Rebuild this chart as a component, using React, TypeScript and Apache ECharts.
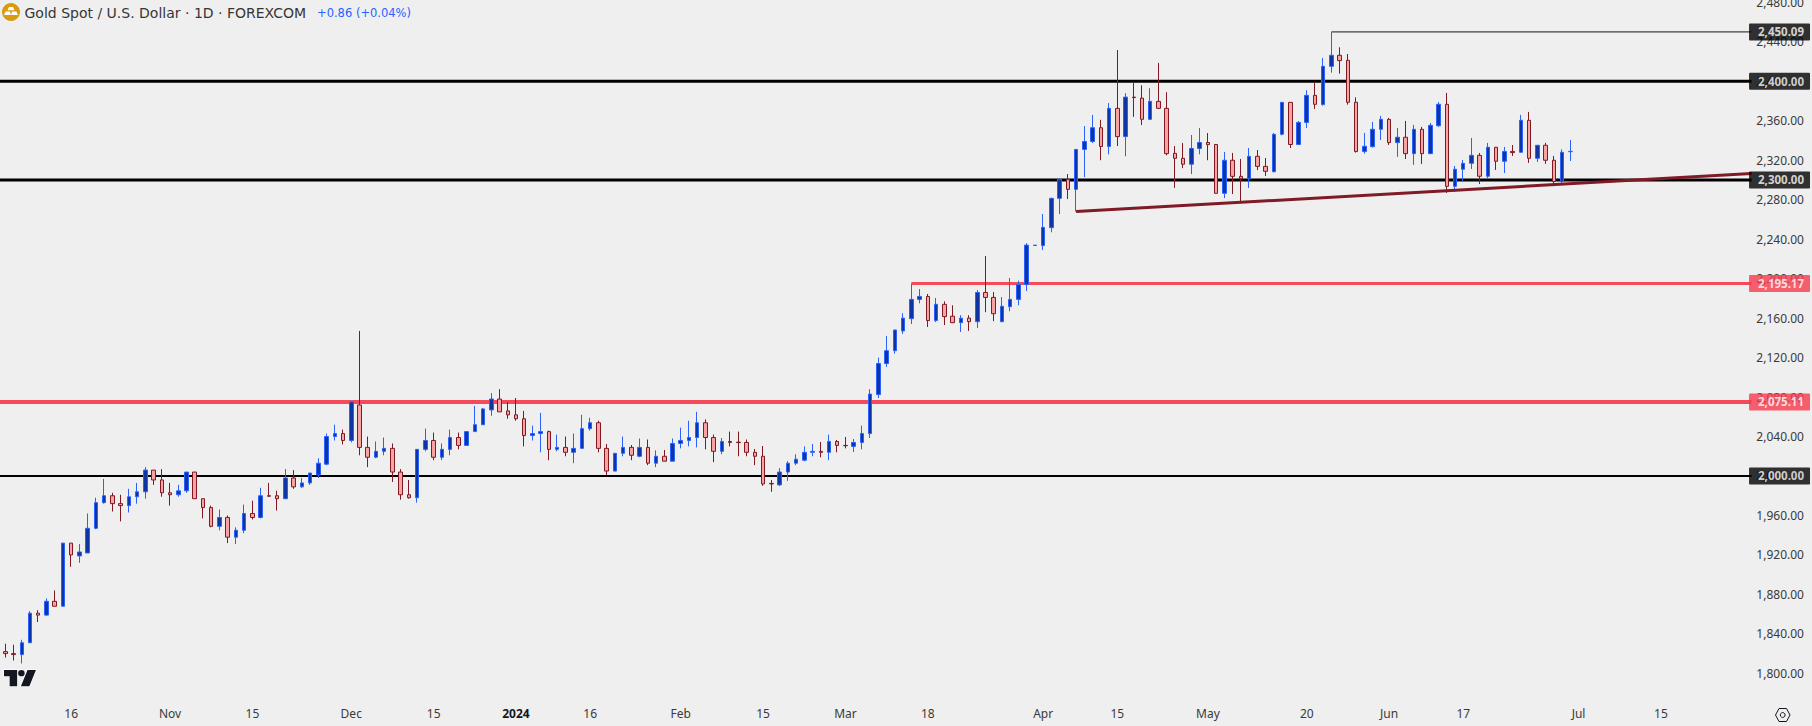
import React, { useEffect, useRef } from "react";
import * as echarts from "echarts";

const FONT = '"Noto Sans", sans-serif';
const TITLE_FONT = '"DejaVu Sans", sans-serif';
const BG = "#efefef";

const opens = [1822,1820,1819,1831,1861,1859,1873,1868,1932,1919,1922,1947,1973,1980,1972,1970,1979,1984,2006,1996,1983,1981,1985,2004,1977,1968,1949,1958,1938,1945,1962,1958,1980,1980,1977,1998,1989,1993,2001,2012,2040,2043,2036,2072,2029,2019,2025,2028,2004,1981,1978,2027,2036,2019,
2027,2039,2031,2045,2052,2067,2078,2066,2062,2058,2041,2043,2045,2027,2029,2024,2028,2048,2054,
2028,2005,2023,2029,2020,2029,2013,2020,2015,2033,2036,2039,2054,2039,2025,2035,2034.3,2034,2024,2020,1992.5,1991,2004,2013,2016,2024,2025,2024,2035,2031,2030,2034,2043,
2082.5,2114,2127,2147,2159.5,2179,2182,2157.5,2174,2162,2155.4,2160,2156.4,2186,2181,2156.4,2171.6,2179,2194,2233.6,2233.5,2251.7,2281.4,2300.7,2290.5,2331,2339,2353,2334,2372.6,2344,2384,2383,2361.5,2379.7,2372.6,2327,2322,2316,2332,2338,2336,2286.5,2320,2303.7,2301.3,2324,2313.8,2308.4,2346.3,2378.7,2336,2358.4,2385.8,
2376.4,2415.2,2426.4,2421.3,2378.8,2328.8,2333.8,2351.4,2361.5,2337.9,2343.3,2326.7,2351.4,2326.7,2355,2376.7,2293.6,2310.9,2316.9,2325,2303.8,2333.2,2319,2329,2328.1,2360.5,2322,2335.2,2320,2298.4,2328.7];

const closes = [1820,1819,1831,1861,1859,1873,1868,1932,1920,1923,1947,1973,1980,1972,1970,1979,1984,2006,1996,1983,1981,1985,2004,1977,1968,1949,1958,1938,1945,1962,1958,1980,1979.5,1977,1998,1989,1993,2003,2013,2040,2043,2036,2075,2029,2019,2025,2028,2004,1981,1978,2027,2036,2019,2027,
2039,2031,2045,2052,2068,2078,2065,2062,2058,2041,2043,2045,2027,2029,2024,2028,2048,2054,2028,
2005,2023,2029,2021,2029,2013,2020,2015,2033,2036,2039,2054,2039,2025,2035,2034,2033.8,2024,2020,1992,1992,2004,2013,2017,2024,2025,2024,2035,2031,2030.7,2034,2043,2083,
2114,2127,2148,2160,2179,2182,2157.5,2174,2161.5,2155.4,2160,2156.4,2186,2181,2164.5,2172,2179,2194,2234,2234,2252,2281.4,2300.7,2290.5,2331,2339,2353,2334,2372.6,2344,2384,2383.5,2361.5,2379.7,2372.6,2326.7,2322,2316,2332,2338,2335.8,2286.5,2320,2303.7,2301.3,2324,2313.8,2308.8,2346.3,2378.7,2336,2358.4,2385.8,2376.7,
2415.2,2426.4,2421,2378.8,2328.8,2334.2,2351.4,2361.5,2337.9,2343.3,2326.7,2351.4,2326.7,2355.4,2376.7,2293.6,2310.9,2316.9,2325,2303.8,2333.2,2319,2329,2327.8,2360.5,2322,2335.2,2320,2298.4,2328.1,2329];

const lows = [1816,1813,1810,1831,1852,1858,1868,1868,1908,1912,1922,1946,1972,1964,1954,1963,1972,1977,1991,1979,1970,1979,1983,1977,1957,1948,1945,1932,1931,1942,1956,1957,1979,1965,1977,1987,1988,1991,1998,2011,2036,2032,2034,2021,2009,2018,2021,1994,1976,1977,1973,2025,2016,2016,
2021,2027,2031,2045,2052,2061,2065,2058,2056,2030,2036,2024,2016,2025,2020,2013,2028,2046,2024,
2001,2005,2020,2016,2019,2011,2009,2015,2015,2028,2030,2029,2027,2014,2022,2030,2020,2020,2011,1990,1984,1990,1995,2011,2015,2020,2019,2016,2024,2028,2024.4,2027,2038.5,
2079,2110.5,2124,2144,2154,2175,2151,2156,2153,2155,2146,2147,2150,2166,2157,2156,2167,2173,2187.5,2233.6,2229,2247,2265.5,2280.7,2268,2303,2337.5,2320,2326,2334.4,2324,2364,2355.7,2361,2372,2325,2292,2312,2306,2326,2320,2286.5,2281.7,2285.8,2277.7,2292,2310,2304,2307.7,2345.3,2332.4,2335.5,2352.7,2372,
2375.4,2408.8,2407.8,2376.4,2327.8,2326.7,2332.8,2340.6,2335.5,2323.4,2321.3,2315.3,2316.3,2326.7,2353.8,2286.9,2287.9,2298,2311.2,2296,2302,2310.2,2307,2324.4,2327.8,2317.3,2318.3,2316.3,2296,2296.7,2319.3];

const highs = [1830,1829,1834,1863,1864,1876,1884,1932,1932,1931,1962,1978,1997,1983,1981,1987,1993,2009,2006,2007,1993,1991,2004,2004,1977,1970,1966,1960,1948,1971,1975,1988,1993,1985,2007,2006,1998,2003,2018,2043,2052,2047,2075,2147,2040,2035,2039,2033,2007,1996,2027,2048,2044,2033,
2047,2044,2045,2071,2069,2084,2088,2075,2079,2066,2051,2064,2046,2042,2040,2043,2062,2059,2056,
2032.4,2023,2040,2031.4,2038,2037,2026,2026.4,2038,2049,2056,2065,2057.4,2042,2038.5,2045,2045,2037,2027.4,2030.4,1996,2008,2015,2022,2030,2032.4,2034.5,2042,2036.5,2039.5,2037.5,2051,2088,
2120,2142,2148,2165,2195,2189.5,2184.5,2180.4,2177,2173,2163,2163,2188.5,2223,2186.5,2181.4,2200.7,2198,2236,2234,2265.5,2282,2301.7,2306,2331,2354.7,2366,2361,2378,2431.7,2388,2399.3,2396,2393,2418.6,2389,2334.4,2337.5,2345.6,2352.7,2347.6,2336,2328.4,2327.4,2321.3,2332.4,2330.4,2322.3,2347.6,2378.7,2378.7,2359.8,2391,2399,
2423.7,2450.09,2434.5,2427.7,2383.8,2347.7,2358.8,2365,2362.9,2352.8,2359.8,2355.8,2353.8,2357.8,2379,2388.2,2314.2,2320.3,2342.6,2327.4,2337.6,2333.2,2333.5,2335.5,2366,2369,2335.2,2337.6,2324.4,2331.1,2340.6];

const leadingSlots = 1;
const tickIndex = [8, 20, 30, 42, 52, 62, 71, 82, 92, 102, 112, 126, 135, 146, 158, 168, 177, 191, 201];
const tickLabels = ["16", "Nov", "15", "Dec", "15", "2024", "16", "Feb", "15", "Mar", "18", "Apr", "15", "May", "20", "Jun", "17", "Jul", "15"];
const priceTicks = [1800,1840,1880,1920,1960,2000,2040,2080,2120,2160,2200,2240,2280,2320,2360,2400,2440,2480];

const categoryCount = 214;
const categories = Array.from({ length: categoryCount }, (_, i) => String(i));
const lastSlot = categoryCount - 1;

const levelValues = [2450.09, 2400, 2300, 2195.17, 2075.11, 2000];
const levelStarts = [162, 0, 0, 111, 0, 0];
const levelColors = ["#131722", "#000000", "#000000", "#f44a5a", "#f44a5a", "#000000"];
const levelWidths = [1, 3, 3, 3, 4, 2];
const tagColors = ["#000000", "#000000", "#000000", "#f63a4b", "#f63a4b", "#000000"];

const trendStart = 131;
const trendValues = [2268, 2306.6];

function money(v: number) {
  return v.toLocaleString("en-US", { minimumFractionDigits: 2, maximumFractionDigits: 2 });
}

echarts.graphic.registerShape(
  "tvlogo",
  echarts.graphic.extendPath(
    "M14 18H6V7H0V0H14ZM27 18H18L25 0H34ZM22 3.5a3.5 3.5 0 1 0-7 0 3.5 3.5 0 0 0 7 0Z",
    {}
  ) as any
);

export default function App() {
  const ref = useRef<HTMLDivElement>(null);
  useEffect(() => {
    const chart = echarts.init(ref.current!, undefined, { renderer: "svg" });
    const levelSeries = levelValues.map((v, i) => ({
      type: "line",
      data: [[levelStarts[i], v], [lastSlot, v]],
      showSymbol: false,
      symbol: "none",
      silent: true,
      z: 2,
      lineStyle: { color: levelColors[i], width: levelWidths[i] },
    }));
    chart.setOption({
      animation: false,
      backgroundColor: BG,
      grid: {
        left: 1.18 - 8.237 * leadingSlots,
        top: 0,
        width: 8.237 * categoryCount,
        height: 701,
        containLabel: false,
        outerBoundsMode: "none",
      },
      xAxis: {
        type: "category",
        data: categories,
        boundaryGap: true,
        axisLine: { show: false },
        axisTick: { show: false },
        splitLine: { show: false },
        axisLabel: {
          interval: (i: number) => tickIndex.includes(i - leadingSlots),
          margin: 6,
          fontFamily: FONT,
          fontSize: 12,
          color: "#3a3a3a",
          formatter: (v: string) => {
            const l = tickLabels[tickIndex.indexOf(Number(v) - leadingSlots)] ?? "";
            return l === "2024" ? "{b|2024}" : l;
          },
          rich: { b: { fontWeight: "bold", fontFamily: FONT, fontSize: 12, color: "#131722" } },
        },
      },
      yAxis: {
        type: "value",
        position: "right",
        min: 1771.96,
        max: 2482.43,
        scale: true,
        axisLine: { show: false },
        axisTick: { show: false },
        splitLine: { show: false },
        axisLabel: {
          customValues: priceTicks,
          margin: 48.3,
          align: "right",
          fontFamily: FONT,
          fontSize: 12,
          color: "#3a3a3a",
          formatter: (v: number) => money(v),
        },
      },
      series: [
        ...levelSeries,
        {
          type: "candlestick",
          z: 3,
          barWidth: 4,
          encode: { x: 0, y: [1, 2, 3, 4] },
          data: opens.map((o, i) => [i + leadingSlots, o, closes[i], lows[i], highs[i]]),
          itemStyle: {
            color: "#0f35a3",
            color0: "#f9a2a4",
            borderColor: "#2962ff",
            borderColor0: "#801922",
            borderWidth: 1,
          },
        },
        {
          type: "line",
          z: 4,
          showSymbol: false,
          symbol: "none",
          silent: true,
          data: [[trendStart, trendValues[0]], [lastSlot, trendValues[1]]],
          lineStyle: { color: "#7f1a26", width: 3 },
        },
        {
          type: "scatter",
          z: 6,
          symbolSize: 1,
          silent: true,
          itemStyle: { color: "transparent" },
          data: levelValues.map((v, i) => ({
            value: [lastSlot, v],
            label: { backgroundColor: tagColors[i] },
          })),
          label: {
            show: true,
            position: "right",
            distance: 0,
            offset: [-3, 0],
            color: "#ffffff",
            fontFamily: FONT,
            fontSize: 11.5,
            fontWeight: "bold",
            lineHeight: 13,
            padding: [2, 6, 2, 9],
            borderRadius: 1,
            formatter: (p: any) => money(p.value[1]),
          },
        },
      ],
      graphic: [
        { type: "circle", shape: { cx: 11, cy: 12, r: 9 }, style: { fill: "#d69b0e" } },
        { type: "polygon", shape: { points: [[9, 7], [13, 7], [14.5, 10.2], [7.5, 10.2]] }, style: { fill: "#fff" } },
        { type: "polygon", shape: { points: [[5.5, 11.5], [10, 11.5], [11, 15], [4, 15]] }, style: { fill: "#fff" } },
        { type: "polygon", shape: { points: [[12, 11.5], [16.5, 11.5], [18, 15], [11, 15]] }, style: { fill: "#fff" } },
        {
          type: "text",
          x: 24.5,
          y: 13,
          style: { text: "Gold Spot / U.S. Dollar · 1D · FOREXCOM", font: `14px ${TITLE_FONT}`, fill: "#363636", verticalAlign: "middle" },
        },
        {
          type: "text",
          x: 317,
          y: 13,
          style: { text: "+0.86 (+0.04%)", font: `11.5px ${TITLE_FONT}`, fill: "#2962ff", verticalAlign: "middle" },
        },
        {
          type: "tvlogo",
          x: 4,
          y: 670,
          scaleX: 0.94,
          scaleY: 0.9,
          style: { fill: "#131722", stroke: "#ffffff", lineWidth: 1.5, strokeFirst: true },
        },
        {
          type: "polygon",
          shape: { points: [[1775.5, 715], [1779, 708.5], [1786.5, 708.5], [1790, 715], [1786.5, 721.5], [1779, 721.5]] },
          style: { fill: "none", stroke: "#131722", lineWidth: 1 },
        },
        { type: "circle", shape: { cx: 1782.7, cy: 715, r: 2.4 }, style: { fill: "none", stroke: "#131722", lineWidth: 1 } },
      ],
    } as any);
    return () => chart.dispose();
  }, []);
  return <div ref={ref} style={{ position: "fixed", left: 0, top: 0, width: 1812, height: 726 }} />;
}
